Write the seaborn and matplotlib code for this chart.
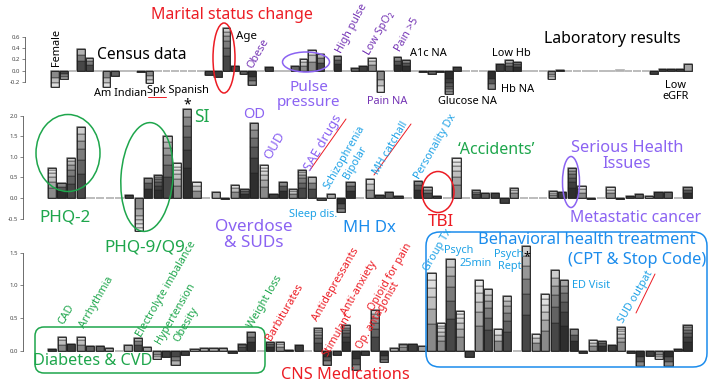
import numpy as np
import pandas as pd
import matplotlib
matplotlib.use("Agg")
import matplotlib.pyplot as plt
import seaborn as sns
from matplotlib.patches import Ellipse, FancyBboxPatch
from matplotlib.transforms import Affine2D
from matplotlib.lines import Line2D

# ---------------- data (effect sizes) ----------------
census_lab_values = [
    -0.29, -0.14, 0.0, 0.38, 0.22, -0.01, -0.29, -0.09, 0.0, -0.01,
    -0.02, -0.22, -0.01, 0.0, 0.0, 0.0, 0.0, 0.0, -0.08, -0.11,
    0.75, 0.08, -0.06, -0.25, 0.0, 0.07, 0.0, 0.0, 0.08, 0.20,
    0.36, 0.30, 0.0, 0.26, 0.0, 0.04, 0.09, 0.22, -0.37, 0.0,
    0.24, 0.19, 0.0, -0.02, -0.05, -0.02, -0.41, 0.07, -0.01, -0.01,
    0.0, -0.32, 0.12, 0.19, 0.16, 0.0, -0.01, 0.0, -0.15, 0.02,
    0.0, 0.0, 0.0, -0.01, 0.0, 0.0, 0.01, 0.0, 0.0, 0.0,
    -0.05, 0.03, 0.03, 0.03, 0.11]
mental_health_values = [
    0.74, 0.36, 0.98, 1.72, 0.0, -0.01, 0.0, 0.0, 0.07, -0.79,
    0.49, 0.56, 1.50, 0.84, 2.15, 0.39, 0.0, 0.14, -0.03, 0.31,
    0.23, 1.81, 0.81, 0.10, 0.39, 0.23, 0.69, 0.50, -0.05, 0.10,
    -0.35, 0.38, 0.0, 0.45, 0.07, 0.15, 0.06, 0.0, 0.41, 0.26,
    0.06, 0.0, 0.96, 0.0, 0.19, 0.13, 0.11, -0.13, 0.25, 0.0,
    0.0, 0.0, 0.17, 0.15, 0.72, 0.29, -0.03, 0.0, 0.27, -0.02,
    0.06, 0.10, 0.05, 0.15, 0.14, 0.0, 0.26]
medical_treatment_values = [
    0.02, 0.21, 0.10, 0.21, 0.07, 0.07, 0.04, 0.0, 0.09, 0.19,
    0.05, -0.13, -0.09, -0.22, -0.06, 0.03, 0.04, 0.04, 0.04, -0.04,
    0.11, 0.28, 0.0, 0.14, 0.13, 0.01, 0.09, 0.0, 0.35, -0.22,
    -0.06, 0.39, -0.29, -0.06, 0.62, -0.18, 0.04, 0.11, 0.10, 0.07,
    1.19, 0.42, 1.41, 0.61, -0.10, 1.09, 0.94, 0.33, 0.84, 0.0,
    1.60, 0.25, 0.87, 1.23, 1.09, 0.33, -0.03, 0.16, 0.15, 0.08,
    0.37, -0.03, -0.23, -0.08, -0.13, -0.23, 0.02, 0.40]
ticks_top = [-0.2, 0.0, 0.2, 0.4, 0.6]
ticks_mid = [-0.5, 0.0, 0.5, 1.0, 1.5, 2.0]
ticks_bot = [0.0, 0.5, 1.0, 1.5]

# ---------------- style ----------------
tone_top = ("lmmmmdlmdd" "dldmmmmmdd" "mdmdmdmmml" "lmmdmmdllm" "ddmdmddddd"
            "mddmddddld" "dddddddddd" "ddddl")
tone_mid = ("ldmmmdmmdl" "ddmldlmldl" "ddlddlmmml" "ddmldmdmdm" "dmlmmmddlm"
            "mmlddldmld" "dmldmmd")
tone_bot = ("dldlmmlmlm" "lldmdlllld" "mdmdlddmmd" "ddddmdlldl" "llmldlmlmm"
            "mllmdddldd" "ldddlddd")
PALS = {
    "d": ["#2e2e2e", "#3e3e3e", "#555555", "#6c6c6c", "#888888", "#a6a6a6"],
    "m": ["#474747", "#626262", "#7c7c7c", "#979797", "#b3b3b3", "#cdcdcd"],
    "l": ["#8a8a8a", "#a6a6a6", "#bfbfbf", "#d1d1d1", "#dfdfdf", "#eaeaea"],
}
FRACS = [0.34, 0.2, 0.15, 0.12, 0.1, 0.09]

sns.set_theme(style="white")
plt.rcParams["font.family"] = ["Noto Sans", "DejaVu Sans"]

W, H = 710, 383
fig = plt.figure(figsize=(7.1, 3.83), dpi=100)
PX = Affine2D().scale(1 / W, -1 / H).translate(0, 1) + fig.transFigure


def add_panel(values, tones, first_px, last_px, zero_px, unit_px, top_px, bot_px,
              axis_px, ticks, width):
    n = len(values)
    pitch = (last_px - first_px) / (n - 1)
    right_px = 704
    ax = fig.add_axes([axis_px / W, 1 - bot_px / H,
                       (right_px - axis_px) / W, (bot_px - top_px) / H])
    df = pd.DataFrame({"pos": np.arange(n), "value": values})
    sns.barplot(data=df, x="pos", y="value", native_scale=True, width=width,
                color="#b8b8b8", saturation=1, edgecolor="#b0b0b0", linewidth=1.2,
                errorbar=None, ax=ax)
    for i, (v, t) in enumerate(zip(values, tones)):
        hpx = abs(v) * unit_px
        if hpx < 0.6:
            continue
        pal = PALS[t]
        if hpx > 22:
            fr, cols = FRACS, pal
        elif hpx > 7:
            fr, cols = [0.45, 0.3, 0.25], [pal[0], pal[2], pal[4]]
        else:
            fr, cols = [1.0], [pal[1]]
        base = 0.0
        for f, c in zip(fr, cols):
            ax.bar(i, v * f, bottom=base, width=width, color=c,
                   edgecolor="#1e1e1e", linewidth=0.35)
            base += v * f
        ax.bar(i, v, width=width, fill=False, edgecolor="#1e1e1e", linewidth=0.6)
    ax.set_xlim((axis_px - first_px) / pitch, (right_px - first_px) / pitch)
    ax.set_ylim((zero_px - bot_px) / unit_px, (zero_px - top_px) / unit_px)
    sns.despine(ax=ax, bottom=True, left=False)
    ax.spines["left"].set_bounds(ticks[0], ticks[-1])
    ax.spines["left"].set_color("#555555")
    ax.spines["left"].set_linewidth(0.6)
    ax.set_yticks(ticks)
    ax.set_yticklabels([f"{t:.1f}" for t in ticks], fontsize=4.3, color="#444444")
    ax.tick_params(axis="y", left=True, length=2.5, width=0.5, color="#555555", pad=1)
    ax.set_xticks([])
    ax.set_xlabel("")
    ax.set_ylabel("")
    ax.patch.set_alpha(0)
    return ax


add_panel(census_lab_values, tone_top, 55.3, 688.3, 70.7, 56.5, 18, 104, 25,
          ticks_top, 0.9)
add_panel(mental_health_values, tone_mid, 52.0, 687.5, 198.0, 41.2, 104, 240, 23,
          ticks_mid, 0.86)
add_panel(medical_treatment_values, tone_bot, 52.3, 687.5, 350.7, 65.3, 245, 381, 23,
          ticks_bot, 0.86)

RED = "#ec1c24"
GREEN = "#1ea64c"
PURPLE = "#8b63f2"
PURPLE_D = "#7535b5"
BLUE = "#1b8cec"
BLUE2 = "#1fa2e6"
SM = 7.9   # small label size
RS = 7.8   # rotated label size


def T(x, y, s, color, size, rot=0, **kw):
    fig.text(x, y, s, transform=PX, color=color, fontsize=size, rotation=rot,
             ha="center", va="center", rotation_mode="anchor",
             multialignment="center", linespacing=1.05, **kw)


def E(x, y, w, h, color, angle=0, lw=1.1):
    fig.add_artist(Ellipse((x, y), w, h, angle=angle, transform=PX, fill=False,
                           edgecolor=color, linewidth=lw))


def R(x0, y0, x1, y1, color, r, lw=1.1):
    fig.add_artist(FancyBboxPatch((x0, y0), x1 - x0, y1 - y0,
                                  boxstyle=f"round,pad=0,rounding_size={r}",
                                  transform=PX, fill=False, edgecolor=color,
                                  linewidth=lw))


def U(x0, y0, x1, y1):
    fig.add_artist(Line2D([x0, x1], [y0, y1], transform=PX, color=RED, linewidth=0.7))


# ---- top panel annotations ----
T(56, 47, "Female", "black", SM, 90)
T(247, 37, "Age", "black", SM + 0.4)
T(142, 55, "Census data", "black", 11.2)
T(121, 94, "Am Indian", "black", SM)
T(178, 90, "Spk Spanish", "black", SM)
U(148, 97, 166, 97)
T(232, 15, "Marital status change", RED, 11.5)
E(224, 58, 22, 70, RED)
T(258, 54, "Obese", PURPLE_D, RS, 60)
E(306, 62, 47, 20, PURPLE)
T(309, 95, "Pulse\npressure", PURPLE, 11)
T(352, 28, "High pulse", PURPLE_D, RS, 62)
T(379, 33, "Low SpO₂", PURPLE_D, RS, 60)
T(407, 35, "Pain >5", PURPLE_D, RS, 60)
T(428, 54, "A1c NA", "black", SM)
T(387, 102, "Pain NA", PURPLE_D, SM)
T(467, 102, "Glucose NA", "black", SM)
T(511, 54, "Low Hb", "black", SM)
T(518, 90, "Hb NA", "black", SM)
T(612, 39, "Laboratory results", "black", 11.4)
T(676, 91, "Low\neGFR", "black", SM)

# ---- middle panel annotations ----
T(187, 105, "*", "black", 10)
T(202, 117, "SI", GREEN, 12.5)
E(68, 153, 64, 77, GREEN)
T(65, 217, "PHQ-2", GREEN, 12.3)
E(147, 177, 52, 109, GREEN, angle=4)
T(145, 247, "PHQ-9/Q9", GREEN, 12.3)
T(254, 114, "OD", PURPLE, 10.5)
T(275, 146, "OUD", PURPLE, 9.5, 60)
T(323, 143, "SAE drugs", PURPLE, 9.5, 60)
U(310, 170, 346, 119)
T(254, 235, "Overdose\n& SUDs", PURPLE, 12.3)
T(313, 215, "Sleep dis.", BLUE2, SM)
T(350, 160, "Schizophrenia\nBipolar", BLUE2, RS, 60)
T(391, 148, "MH catchall", BLUE2, RS, 60)
U(374, 175, 411, 124)
T(436, 147, "Personality Dx", BLUE2, RS, 60)
T(369, 228, "MH Dx", BLUE, 12)
E(438, 192, 32, 41, RED)
T(441, 222, "TBI", RED, 12.3)
T(496, 150, "‘Accidents’", GREEN, 11.5)
E(571, 182, 17, 51, PURPLE)
T(627, 156, "Serious Health\nIssues", PURPLE, 11.8)
T(636, 218, "Metastatic cancer", PURPLE, 11.4)

# ---- bottom panel annotations ----
T(67, 314, "CAD", GREEN, RS, 60)
T(97, 302, "Arrhythmia", GREEN, RS, 60)
T(166, 289, "Electrolyte imbalance", GREEN, RS, 60)
T(175, 314, "Hypertension", GREEN, RS, 60)
T(186, 325, "Obesity", GREEN, RS, 60)
T(265, 302, "Weight loss", GREEN, RS, 60)
R(35, 327, 265, 373, GREEN, 9)
T(93, 361, "Diabetes & CVD", GREEN, 11.7)
T(285, 312, "Barbiturates", RED, RS, 60)
T(336, 284, "Antidepressants", RED, RS, 60)
T(338, 335, "Stimulant", RED, RS, 60)
T(359, 288, "Anti-anxiety", RED, RS, 60)
T(390, 277, "Opioid for pain", RED, RS, 60)
T(378, 316, "Op. antagonist", RED, RS, 60)
T(345, 375, "CNS Medications", RED, 11.7)
R(426, 232, 707, 367, BLUE, 14)
T(587, 240, "Behavioral health treatment", BLUE, 11.8)
T(637, 260, "(CPT & Stop Code)", BLUE, 11.8)
T(438, 250, "Group Tx", BLUE2, RS, 60)
T(459, 251, "Psych", BLUE2, SM)
T(476, 264, "25min", BLUE2, SM)
T(509, 254, "Psych", BLUE2, SM)
T(510, 266, "Rept", BLUE2, SM)
T(527, 257, "*", "black", 9)
T(591, 285, "ED Visit", BLUE2, SM)
T(636, 297, "SUD outpat", BLUE2, RS, 60)
U(636, 313, 655, 274)

fig.savefig("out.png", dpi=100)
